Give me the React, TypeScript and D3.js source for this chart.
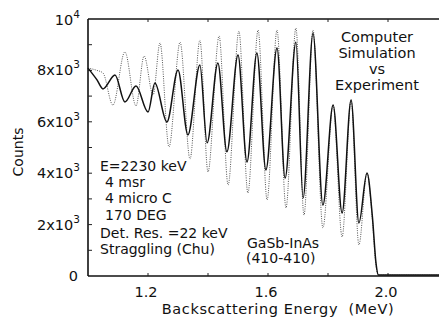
import React from 'react';
import * as d3 from 'd3';

// simulation (dotted) - extrema
const simEnergy = [1.0, 1.03, 1.05, 1.083, 1.123, 1.16, 1.187, 1.217, 1.24, 1.27, 1.307, 1.34, 1.373, 1.4, 1.437, 1.467, 1.503, 1.533, 1.567, 1.597, 1.63, 1.66, 1.693, 1.72, 1.75, 1.783, 1.817, 1.847, 1.877, 1.903, 1.93, 1.948, 1.96, 1.968, 2.2];
const simCounts = [8090, 8000, 7900, 6650, 8720, 6620, 8560, 7040, 9070, 5020, 9100, 4550, 9180, 4050, 9340, 3540, 9530, 3230, 9570, 2960, 9570, 2650, 9650, 2370, 9570, 1870, 6650, 1520, 6850, 1210, 4010, 2200, 400, 30, 30];

// experiment (solid)
const expEnergy = [1.0, 1.03, 1.05, 1.09, 1.123, 1.16, 1.2, 1.223, 1.263, 1.3, 1.333, 1.373, 1.397, 1.433, 1.463, 1.5, 1.53, 1.563, 1.593, 1.63, 1.657, 1.693, 1.717, 1.75, 1.783, 1.817, 1.847, 1.877, 1.903, 1.93, 1.948, 1.96, 1.968, 2.2];
const expCounts = [8090, 7630, 7280, 7820, 6770, 7390, 6380, 7510, 5990, 8020, 5490, 8210, 5180, 8290, 4830, 8600, 4440, 8680, 4130, 8870, 3810, 9100, 3040, 9450, 2760, 6650, 2450, 6850, 2060, 4010, 2300, 500, 40, 40];

const xTicks = [1.2, 1.4, 1.6, 1.8, 2.0];
const xLabels = ['1.2', '1.6', '2.0'];
const yTicks = [1000, 2000, 3000, 4000, 5000, 6000, 7000, 8000, 9000];
const yLabelValues = [2000, 4000, 6000, 8000];
const yLabelMant = ['2x10', '4x10', '6x10', '8x10'];

const notes = ['E=2230 keV', '4 msr', '4 micro C', '170 DEG', 'Det. Res. =22 keV', 'Straggling (Chu)'];
const titleLines = ['Computer', 'Simulation', 'vs', 'Experiment'];

const W = 439;
const H = 322;
const font = '"DejaVu Sans", sans-serif';

export default function App() {
  const x = d3.scaleLinear().domain([1.0, 2.2]).range([88, 448]);
  const y = d3.scaleLinear().domain([0, 10000]).range([276, 19]);

  const line = d3
    .line<number>()
    .x((d) => d)
    .y((d) => d)
    .curve(d3.curveMonotoneX);

  const simPath = d3
    .line<[number, number]>()
    .x((d) => x(d[0]))
    .y((d) => y(d[1]))
    .curve(d3.curveMonotoneX)(simEnergy.map((e, i) => [e, simCounts[i]]));
  const expPath = d3
    .line<[number, number]>()
    .x((d) => x(d[0]))
    .y((d) => y(d[1]))
    .curve(d3.curveMonotoneX)(expEnergy.map((e, i) => [e, expCounts[i]]));
  void line;

  const x0 = x(1.0);
  const yTop = y(10000);
  const yBot = y(0);

  return (
    <svg width={W} height={H} style={{ position: 'absolute', left: 0, top: 0, background: '#fff' }} fontFamily={font}>
      {/* frame */}
      <line x1={x0} x2={W} y1={yTop} y2={yTop} stroke="#111" strokeWidth={1.6} />
      <line x1={x0} x2={W} y1={yBot} y2={yBot} stroke="#111" strokeWidth={1.6} />
      <line x1={x0} x2={x0} y1={yTop} y2={yBot} stroke="#111" strokeWidth={1.6} />

      {/* ticks */}
      {xTicks.map((t) => (
        <g key={'xt' + t}>
          <line x1={x(t)} x2={x(t)} y1={yBot} y2={yBot - 3} stroke="#222" strokeWidth={1} />
          <line x1={x(t)} x2={x(t)} y1={yTop} y2={yTop + 3} stroke="#222" strokeWidth={1} />
        </g>
      ))}
      {yTicks.map((t) => (
        <line key={'yt' + t} x1={x0} x2={x0 + 4} y1={y(t)} y2={y(t)} stroke="#222" strokeWidth={1} />
      ))}

      {/* curves */}
      <path d={simPath || ''} fill="none" stroke="#555" strokeWidth={1} strokeDasharray="1,1.3" />
      <path d={expPath || ''} fill="none" stroke="#111" strokeWidth={1.5} />

      {/* x labels */}
      {xLabels.map((l) => (
        <text key={l} x={x(+l) - 2} y={297} fontSize={14.5} textAnchor="middle" fill="#111">
          {l}
        </text>
      ))}
      <text x={278} y={314} fontSize={14.5} textAnchor="middle" fill="#111" letterSpacing={0.6}>
        Backscattering Energy{'\u00a0\u00a0'}(MeV)
      </text>

      {/* y labels */}
      {yLabelValues.map((v, i) => (
        <text key={v} x={80} y={y(v) + 5} fontSize={14.5} textAnchor="end" fill="#111">
          {yLabelMant[i]}
          <tspan fontSize={10.5} dy={-7}>3</tspan>
        </text>
      ))}
      <text x={80} y={25} fontSize={14.5} textAnchor="end" fill="#111">
        10<tspan fontSize={10.5} dy={-7}>4</tspan>
      </text>
      <text x={78} y={281} fontSize={14.5} textAnchor="end" fill="#111">
        0
      </text>
      <text transform="translate(23,152) rotate(-90)" fontSize={14} textAnchor="middle" fill="#111">
        Counts
      </text>

      {/* annotations */}
      {notes.map((n, i) => (
        <text
          key={n}
          x={i >= 1 && i <= 3 ? 105 : 100}
          y={[171, 187, 203, 220, 238, 254][i]}
          fontSize={14}
          fill="#111"
        >
          {n}
        </text>
      ))}
      <text x={247} y={248} fontSize={14} fill="#111">
        GaSb-InAs
      </text>
      <text x={246} y={263} fontSize={14} fill="#111">
        (410-410)
      </text>
      {titleLines.map((t, i) => (
        <text key={t} x={377} y={42 + i * 16} fontSize={14.5} textAnchor="middle" fill="#111">
          {t}
        </text>
      ))}
    </svg>
  );
}
